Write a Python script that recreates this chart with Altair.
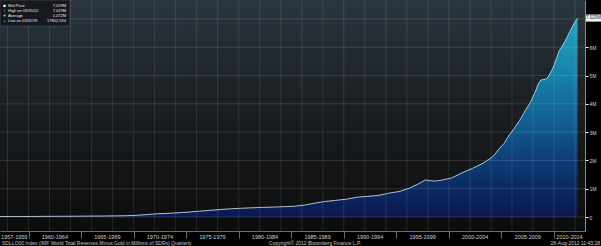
import altair as alt
import pandas as pd

# ---- data ----
quarters = [1957.25, 1958.25, 1959.25, 1960.25, 1961.25, 1962.25, 1963.25, 1964.25,
            1965.25, 1966.25, 1967.25, 1968.25, 1969.25, 1970.25, 1971.25, 1972.25,
            1973.25, 1974.25, 1975.25, 1976.25, 1977.25, 1978.25, 1979.25, 1980.25,
            1981.25, 1982.25, 1983.25, 1984.25, 1985.25, 1986.25, 1987.25, 1988.25,
            1989.25, 1990.25, 1991.25, 1992.25, 1993.25, 1994.25, 1995.25, 1996.25,
            1997.25, 1997.75, 1998.25, 1998.75, 1999.25, 1999.75, 2000.25, 2001.25,
            2002.25, 2003.25, 2004.25, 2004.75, 2005.25, 2005.75, 2006.25, 2006.75,
            2007.25, 2007.75, 2008.25, 2008.5, 2008.75, 2009.0, 2009.25, 2009.5,
            2009.75, 2010.0, 2010.25, 2010.5, 2010.75, 2011.0, 2011.25, 2011.5,
            2011.75, 2012.0, 2012.25]
reserves_m = [0.019, 0.019, 0.0178, 0.020, 0.022, 0.024, 0.026, 0.028,
              0.030, 0.033, 0.036, 0.040, 0.045, 0.060, 0.085, 0.115,
              0.130, 0.150, 0.175, 0.205, 0.235, 0.265, 0.290, 0.310,
              0.325, 0.340, 0.350, 0.365, 0.380, 0.420, 0.490, 0.550,
              0.590, 0.630, 0.700, 0.730, 0.760, 0.840, 0.900, 1.020,
              1.200, 1.310, 1.280, 1.270, 1.300, 1.340, 1.380, 1.560,
              1.720, 1.900, 2.150, 2.400, 2.600, 2.900, 3.150, 3.420,
              3.750, 4.050, 4.450, 4.700, 4.840, 4.860, 4.870, 4.980,
              5.150, 5.350, 5.620, 5.880, 6.020, 6.180, 6.350, 6.550,
              6.720, 6.900, 7.029]

period_labels = ["1957-1959", "1960-1964", "1965-1969", "1970-1974", "1975-1979",
                 "1980-1984", "1985-1989", "1990-1994", "1995-1999", "2000-2004",
                 "2005-2009", "2010-2014"]
period_start = [1957, 1960, 1965, 1970, 1975, 1980, 1985, 1990, 1995, 2000, 2005, 2010]
period_end = [1960, 1965, 1970, 1975, 1980, 1985, 1990, 1995, 2000, 2005, 2010, 2015]
separator_years = [1960, 1965, 1970, 1975, 1980, 1985, 1990, 1995, 2000, 2005, 2010]
grid_years = list(range(1958, 2013, 2))
y_ticks = [0, 1, 2, 3, 4, 5, 6]
y_grid = [0, 1, 2, 3, 4, 5, 6, 7]

legend_names = ["Mid Price", "High on 03/31/12", "Average", "Low on 03/31/59"]
legend_values = ["7.029M", "7.029M", "1.072M", "17802.594"]
legend_icons = ["■", "↑", "+", "↓"]
last_value_text = "7.029M"
last_value = 7.029

footer_left = "SDLLO00 Index (IMF World Total Reserves Minus Gold in Millions of SDRs)  Quarterly"
footer_mid = "Copyright© 2012 Bloomberg Finance L.P."
footer_right = "28-Aug-2012 11:43:28"

W, H = 585, 231
X_DOM = [1957.285, 2012.95]
Y_DOM = [-0.494, 7.668]
FONT = "Liberation Sans"

df = pd.DataFrame({"t": quarters, "v": reserves_m})
mid = [(max(s, X_DOM[0]) + min(e, X_DOM[1])) / 2 for s, e in zip(period_start, period_end)]
df_periods = pd.DataFrame({"c": mid, "label": period_labels})
df_vgrid = pd.DataFrame({"t": grid_years})
df_hgrid = pd.DataFrame({"v": y_grid})
df_one = pd.DataFrame({"a": [0]})

xs = alt.Scale(domain=X_DOM, nice=False, zero=False)
ys = alt.Scale(domain=Y_DOM, nice=False, zero=False)
x_axis = alt.Axis(values=separator_years, labels=False, title=None, grid=False,
                  tickSize=7, tickColor="#6a6a6a", domainColor="#6a6a6a", domainWidth=1)
y_axis = alt.Axis(orient="right", values=y_ticks, title=None, grid=False,
                  labelExpr="datum.value == 0 ? '0' : datum.value + 'M'",
                  labelOverlap=False, labelBound=False, labelFlush=False,
                  labelFontSize=5, labelColor="#d0d0d0", labelFont=FONT, labelPadding=1,
                  tickSize=3, tickColor="#ffffff", domainColor="#8a8a8a")

bg_grad = alt.Gradient(gradient="linear", x1=0, y1=0, x2=0, y2=1,
                       stops=[alt.GradientStop(offset=0, color="#2a3640"),
                              alt.GradientStop(offset=0.45, color="#1b1f23"),
                              alt.GradientStop(offset=1, color="#0c0c0c")])
area_grad = alt.Gradient(gradient="linear", x1=0, y1=0, x2=0, y2=1,
                         stops=[alt.GradientStop(offset=0, color="#22a4c0"),
                                alt.GradientStop(offset=0.3, color="#1780a8"),
                                alt.GradientStop(offset=0.55, color="#105a8c"),
                                alt.GradientStop(offset=0.8, color="#0c306a"),
                                alt.GradientStop(offset=1, color="#0a1850")])

bg = alt.Chart(df_one).mark_rect(fill=bg_grad).encode(
    x=alt.value(0), x2=alt.value(W), y=alt.value(0), y2=alt.value(H))

area = alt.Chart(df).mark_area(fill=area_grad, clip=True).encode(
    x=alt.X("t:Q", scale=xs, axis=x_axis),
    y=alt.Y("v:Q", scale=ys, axis=y_axis),
    y2=alt.value(H))

vgrid = alt.Chart(df_vgrid).mark_rule(color="#ffffff", opacity=0.1, strokeWidth=1).encode(
    x=alt.X("t:Q", scale=xs, axis=x_axis), y=alt.value(0), y2=alt.value(H))

hgrid = alt.Chart(df_hgrid).mark_rule(color="#ffffff", opacity=0.12, strokeWidth=1).encode(
    y=alt.Y("v:Q", scale=ys, axis=y_axis), x=alt.value(0), x2=alt.value(W))

line = alt.Chart(df).mark_line(color="#b4c2cf", strokeWidth=1, clip=True).encode(
    x=alt.X("t:Q", scale=xs, axis=x_axis),
    y=alt.Y("v:Q", scale=ys, axis=y_axis))

periods = alt.Chart(df_periods).mark_text(font=FONT, fontSize=5.5, color="#d0d0d0",
                                          baseline="middle").encode(
    x=alt.X("c:Q", scale=xs, axis=x_axis), y=alt.value(H + 6), text="label:N")


def fixed_text(txt, x, y, align, size=5, color="#c8c8c8"):
    return alt.Chart(df_one).mark_text(text=txt, font=FONT, fontSize=size, color=color,
                                       align=align, baseline="middle").encode(
        x=alt.value(x), y=alt.value(y))


foot1 = fixed_text(footer_left, 2, H + 12, "left")
foot2 = fixed_text(footer_mid, 315, H + 12, "center")
foot3 = fixed_text(footer_right, 600, H + 12, "right")

leg_box = alt.Chart(df_one).mark_rect(fill="#15191d", stroke="#4a4f55", strokeWidth=0.7).encode(
    x=alt.value(0), x2=alt.value(70), y=alt.value(0), y2=alt.value(26))
leg_layers = [leg_box]
row_y = [5.5, 10.7, 15.9, 21.1]
for i, (nm, vl, ic) in enumerate(zip(legend_names, legend_values, legend_icons)):
    leg_layers.append(fixed_text(ic, 4.5, row_y[i], "center", size=4.5, color="#ffffff"))
    leg_layers.append(fixed_text(nm, 8, row_y[i], "left", size=4, color="#e8e8e8"))
    leg_layers.append(fixed_text(vl, 66, row_y[i], "right", size=4, color="#e8e8e8"))

last_box = alt.Chart(df_one).mark_rect(fill="#f2f2f2").encode(
    x=alt.value(586), x2=alt.value(601),
    y=alt.Y(datum=last_value + 0.125, scale=ys, axis=y_axis),
    y2=alt.datum(last_value - 0.125))
last_txt = alt.Chart(df_one).mark_text(text=last_value_text, font=FONT, fontSize=4.5,
                                       color="#222222", align="center",
                                       baseline="middle").encode(
    x=alt.value(593.5), y=alt.Y(datum=last_value, scale=ys, axis=y_axis))

chart = alt.layer(bg, area, vgrid, hgrid, line, periods, foot1, foot2, foot3,
                  *leg_layers, last_box, last_txt).properties(
    width=W, height=H,
    padding={"left": 0, "top": 0, "right": 16, "bottom": 15},
    autosize=alt.AutoSizeParams(type="none"),
    background="#000000",
).configure_view(stroke=None).configure_axis(labelOverlap=False)

chart.save("out.html", embed_options={"renderer": "svg", "actions": False})
